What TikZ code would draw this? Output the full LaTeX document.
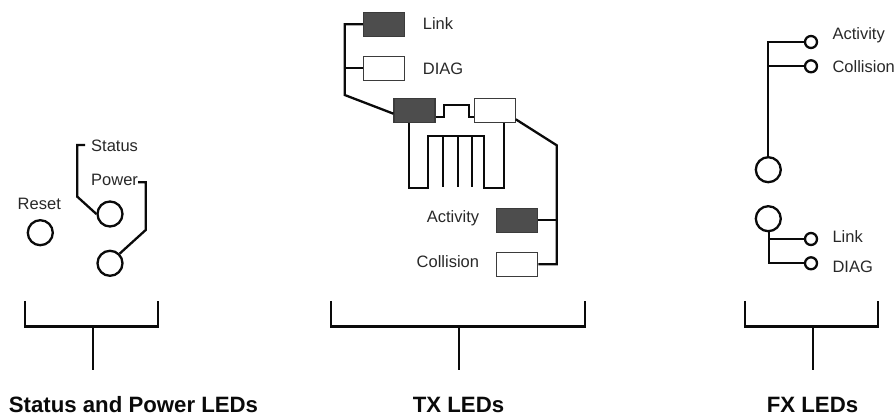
\documentclass[tikz,border=0pt]{standalone}
\usepackage{fontspec}
\setmainfont{Liberation Sans}
\definecolor{LEDDark}{RGB}{77,77,77}
\definecolor{LEDLine}{RGB}{10,10,10}
\definecolor{LEDText}{RGB}{40,40,40}
\usetikzlibrary{positioning, calc}
\begin{document}
\begin{tikzpicture}[x=1pt, y=-1pt,
  led/.style={rectangle, draw=LEDLine!80, line width=1.1pt, minimum width=41pt, minimum height=24pt, inner sep=0pt, fill=white},
  ledon/.style={led, fill=LEDDark},
  bigled/.style={circle, draw=LEDLine, line width=2.3pt, minimum size=25pt, inner sep=0pt, fill=white},
  smallled/.style={circle, draw=LEDLine, line width=2.3pt, minimum size=12pt, inner sep=0pt, fill=white},
  wire/.style={LEDLine, line width=2.3pt},
  brace/.style={LEDLine, line width=2.1pt},
  tag/.style={font=\fontsize{16.5}{19}\selectfont, text=LEDText, inner sep=0pt},
  title/.style={font=\fontsize{22.2}{26}\selectfont\bfseries, text=LEDLine, inner sep=0pt}
]
\useasboundingbox (0,0) rectangle (896,419);

% Status and Power LEDs
\node[bigled] (reset) at (40.3,232.7) {};
\node[bigled] (status) at (110,214) {};
\node[bigled] (power) at (110,263.3) {};
\node[tag] (resetlabel) at (39.3,204) {Reset};
\node[tag, anchor=west] (statuslabel) at (91,145.7) {Status};
\node[tag, anchor=west] (powerlabel) at (91,180) {Power};
\coordinate (statusend) at (85,145);

\draw[wire] (statusend) -- (77.3,145) -- (77.3,196.7) -- (status.west);
\draw[wire] (powerlabel.east |- 0,182.3) -- (145.7,182.3) -- (145.7,230) -- (power.north east);

% TX LEDs
\node[ledon] (txlink) at (383.8,24.2) {};
\node[led] (txdiag) at (383.8,68.2) {};
\node[ledon] (jackleft) at (414.5,110.7) {};
\node[led] (jackright) at (494.7,110.7) {};
\node[ledon] (txactivity) at (517.2,220.3) {};
\node[led] (txcollision) at (517.2,264.2) {};
\node[tag, anchor=west] (txlinklabel) at (422.7,24) {Link};
\node[tag, anchor=west] (txdiaglabel) at (422.7,68.5) {DIAG};
\node[tag, anchor=east] (txactivitylabel) at (479.3,218) {Activity};
\node[tag, anchor=east] (txcollisionlabel) at (479.3,262) {Collision};

\draw[wire] (txlink.west) -- (344.7,24.2) -- (344.7,95) -- ([yshift=-3pt]jackleft.west);
\draw[wire] (txdiag.west) -- (344.7,68.2);
\draw[wire] ([yshift=-6pt]jackleft.east) -- (444,116.7) -- (444,105) -- (469,105) -- (469,116.7) -- ([yshift=-6pt]jackright.west);
\draw[wire] ([yshift=-8.6pt]jackright.east) -- (556.7,145.3) -- (556.7,264.2) -- (txcollision.east);
\draw[wire] (txactivity.east) -- (556.7,220.3);

% pins of the jack
\draw[wire] ([xshift=-5.2pt]jackleft.south) -- (409.3,188.3) -- (428.3,188.3) -- (428.3,136) -- (484.3,136) -- (484.3,188.3) -- (504,188.3) -- ([xshift=9.3pt]jackright.south);
\foreach \x in {443.3,457.7,472.3}
  \draw[wire] (\x,136) -- (\x,186.7);

% FX LEDs
\node[bigled] (fxtop) at (768.3,169.7) {};
\node[bigled] (fxbottom) at (768.3,218.7) {};
\node[smallled] (fxactivity) at (811,42) {};
\node[smallled] (fxcollision) at (811,66.3) {};
\node[smallled] (fxlink) at (811,239) {};
\node[smallled] (fxdiag) at (811,263.3) {};
\node[tag, anchor=west] (fxactivitylabel) at (832.3,35.3) {Activity};
\node[tag, anchor=west] (fxcollisionlabel) at (832.3,66.7) {Collision};
\node[tag, anchor=west] (fxlinklabel) at (832.3,236.7) {Link};
\node[tag, anchor=west] (fxdiaglabel) at (832.3,266.7) {DIAG};

\draw[wire] (fxactivity.west) -- (fxtop.north |- fxactivity.west) -- (fxtop.north);
\draw[wire] (fxcollision.west) -- (fxtop.north |- fxcollision.west);
\draw[wire] ([xshift=1pt]fxbottom.south) |- (fxdiag.west);
\draw[wire] (fxlink.west) -- ([xshift=1pt]fxbottom.south |- fxlink.west);

% brackets and titles
\node[title] (statustitle) at (133.5,405) {Status and Power LEDs};
\node[title] (txtitle) at (458.5,405) {TX LEDs};
\node[title] (fxtitle) at (812.5,405) {FX LEDs};
\coordinate (statusfoot) at (93.3,326.5);
\coordinate (txfoot) at (458.7,326.5);
\coordinate (fxfoot) at (813,326.5);

\draw[brace] (24.7,301) -- (24.7,326.5) -- (157.7,326.5) -- (157.7,301);
\draw[brace] (331,301) -- (331,326.5) -- (584.7,326.5) -- (584.7,301);
\draw[brace] (745,301) -- (745,326.5) -- (877.7,326.5) -- (877.7,301);
\draw[brace] (statusfoot) -- (93.3,370);
\draw[brace] (txfoot) -- (458.7,370);
\draw[brace] (fxfoot) -- (813,370);

\end{tikzpicture}
\end{document}
